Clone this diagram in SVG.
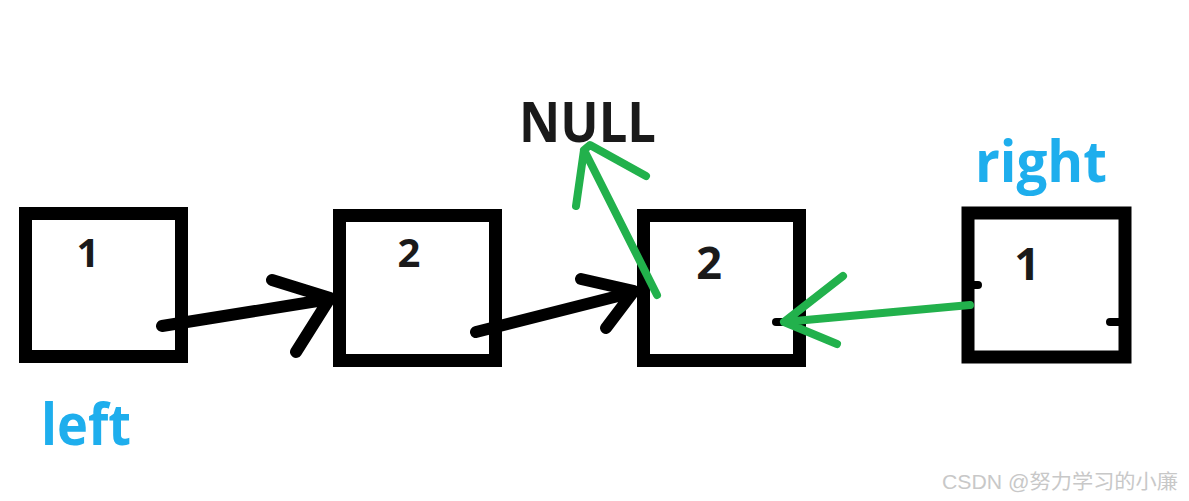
<svg xmlns="http://www.w3.org/2000/svg" width="1189" height="501" viewBox="0 0 1189 501">
<style>
.box{fill:#fff;stroke:#000;stroke-width:13}
.num{font-family:"Open Sans","Noto Sans",sans-serif;font-weight:700;fill:#1a1a1a;text-anchor:middle}
.blk{fill:none;stroke:#000;stroke-width:12;stroke-linecap:round;stroke-linejoin:round}
.grn{fill:none;stroke:#22b14c;stroke-width:8;stroke-linecap:round;stroke-linejoin:round}
.lbl{font-family:"Open Sans","Noto Sans",sans-serif;font-weight:700;fill:#1eaeed}
</style>
<rect width="1189" height="501" fill="#fff"/>
<g id="node1">
<rect class="box" x="25.5" y="213.5" width="156" height="143"/>
<text class="num" x="88" y="267" font-size="40">1</text>
</g>
<g id="node2">
<rect class="box" x="339.5" y="215.5" width="156" height="145"/>
<text class="num" x="409" y="267" font-size="40">2</text>
</g>
<g id="node3">
<rect class="box" x="643.5" y="215.5" width="156" height="145"/>
<text class="num" x="709" y="279" font-size="45">2</text>
</g>
<g id="node4">
<rect class="box" x="968" y="213" width="157" height="144"/>
<text class="num" x="1027" y="280" font-size="45">1</text>
<path d="M968 285 L978 285 M1110 322 L1126 322" stroke="#000" stroke-width="8" stroke-linecap="round"/>
</g>
<g id="null-label">
<text x="519" y="142" font-size="55" textLength="137" lengthAdjust="spacingAndGlyphs" font-family="'Open Sans','Noto Sans',sans-serif" font-weight="700" fill="#1a1a1a">NULL</text>
</g>
<g id="right-label">
<text class="lbl" x="975" y="182" font-size="58" textLength="132" lengthAdjust="spacingAndGlyphs">right</text>
</g>
<g id="left-label">
<text class="lbl" x="41" y="445" font-size="58" textLength="90" lengthAdjust="spacingAndGlyphs">left</text>
</g>
<g id="connectors">
<path class="blk" d="M162 326 L330 299 M272 280 L330 298 L296 352"/>
<path class="blk" d="M476 332 L634 292 M581 279 L634 291 L606 328"/>
<path d="M776 322 L788 322" stroke="#000" stroke-width="8" stroke-linecap="round"/>
<path class="grn" d="M657 295 L584 150 M576 206 L584 150 L590 145 L646 176"/>
<path class="grn" d="M970 305 L784 322 M843 276 L784 322 L837 344"/>
</g>
<g id="watermark">
<text x="942" y="489" font-size="20" textLength="236" lengthAdjust="spacingAndGlyphs" font-family="'Liberation Sans','Noto Sans CJK SC',sans-serif" fill="#c8c8c8">CSDN @努力学习的小廉</text>
</g>
</svg>
